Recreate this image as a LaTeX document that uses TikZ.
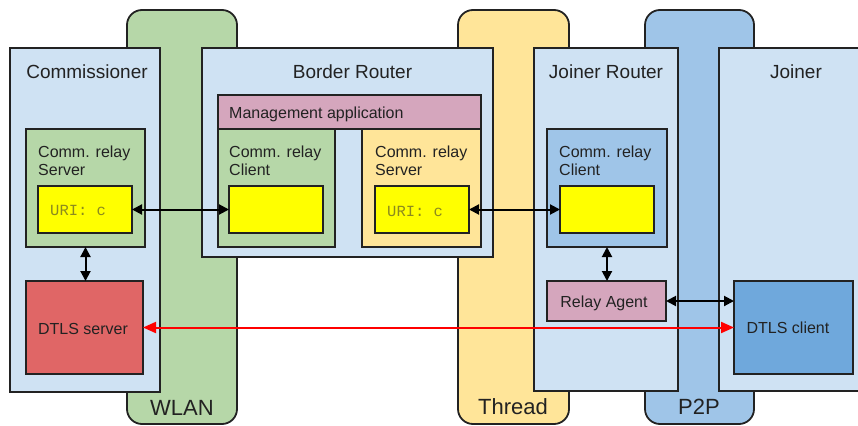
\documentclass[tikz,border=0pt]{standalone}
\usepackage{fontspec}
\setmainfont{Liberation Sans}
\setmonofont{Liberation Mono}
\usetikzlibrary{arrows.meta}
\definecolor{edge}{HTML}{222222}
\definecolor{lb}{HTML}{CFE2F3}
\definecolor{gr}{HTML}{B6D7A8}
\definecolor{org}{HTML}{FFE599}
\definecolor{bl}{HTML}{9FC5E8}
\definecolor{pk}{HTML}{D5A6BD}
\definecolor{rd}{HTML}{E06666}
\definecolor{dc}{HTML}{6FA8DC}
\definecolor{yl}{HTML}{FFFF00}
\definecolor{uri}{HTML}{8C8A1E}
\definecolor{txt}{HTML}{222222}
\begin{document}
\begin{tikzpicture}[x=1pt,y=-1pt,
  box/.style={draw=edge, line width=1.8pt, inner sep=0pt, outer sep=0pt, anchor=north west},
  band/.style={draw=edge, line width=1.8pt, rounded corners=15pt},
  title/.style={font=\fontsize{19}{22}\selectfont, text=txt, inner sep=0pt, anchor=base},
  bandlbl/.style={font=\fontsize{22}{26}\selectfont, text=txt, inner sep=0pt, anchor=base},
  small/.style={font=\fontsize{16}{18}\selectfont, text=txt, inner sep=0pt},
  twoline/.style={small, align=left, anchor=north west},
  uritxt/.style={font=\ttfamily\fontsize{15.5}{18}\selectfont, text=uri, inner sep=0pt, anchor=base west},
  biarrow/.style={line width=2pt, draw=black, {Triangle[length=10pt,width=10pt]}-{Triangle[length=10pt,width=10pt]}},
  redarrow/.style={line width=2pt, draw=red, {Triangle[length=13pt,width=11pt]}-{Triangle[length=13pt,width=11pt]}}
]
\useasboundingbox (0,0) rectangle (858,425);

% network bands
\draw[band, fill=gr] (127,424) rectangle (237,10);
\draw[band, fill=org] (458,424) rectangle (569,10);
\draw[band, fill=bl] (645,424) rectangle (754,10);

% devices
\node[box, fill=lb, minimum width=150pt, minimum height=344pt] (comm) at (10,48) {};
\node[box, fill=lb, minimum width=291pt, minimum height=209pt] (br) at (202,48) {};
\node[box, fill=lb, minimum width=144pt, minimum height=343pt] (jr) at (534,48) {};
\node[box, fill=lb, minimum width=150pt, minimum height=343pt] (joiner) at (719,48) {};

% commissioner internals
\node[box, fill=gr, minimum width=119pt, minimum height=118pt] (comSrv) at (26,129) {};
\node[box, fill=yl, minimum width=94pt, minimum height=47pt] (comYel) at (38,186) {};
\node[box, fill=rd, minimum width=117pt, minimum height=93pt] (dtlsS) at (26,281) {};

% border router internals
\node[box, fill=pk, minimum width=263pt, minimum height=34pt] (mgmt) at (218,95) {};
\node[box, fill=gr, minimum width=117pt, minimum height=118pt] (brCli) at (218,129) {};
\node[box, fill=yl, minimum width=94pt, minimum height=47pt] (brCliYel) at (229,186) {};
\node[box, fill=org, minimum width=119pt, minimum height=118pt] (brSrv) at (362,129) {};
\node[box, fill=yl, minimum width=94pt, minimum height=47pt] (brSrvYel) at (375,186) {};

% joiner router internals
\node[box, fill=bl, minimum width=120pt, minimum height=118pt] (jrCli) at (547,129) {};
\node[box, fill=yl, minimum width=94pt, minimum height=47pt] (jrYel) at (560,186) {};
\node[box, fill=pk, minimum width=119pt, minimum height=40pt] (relay) at (547,281) {};

% joiner internals
\node[box, fill=dc, minimum width=119pt, minimum height=93pt] (dtlsC) at (734,281) {};

% titles
\node[title] (tComm) at (87,78.5) {Commissioner};
\node[title] (tBr) at (352.5,78.5) {Border Router};
\node[title] (tJr) at (606,78.5) {Joiner Router};
\node[title] (tJ) at (796,78.5) {Joiner};

\node[bandlbl] (tWlan) at (182,415) {WLAN};
\node[bandlbl] (tThread) at (513,414) {Thread};
\node[bandlbl] (tP2p) at (699,414) {P2P};

% labels
\node[twoline] (lComSrv) at (38,145.5) {Comm. relay\\Server};
\node[twoline] (lBrCli) at (229,146) {Comm. relay\\Client};
\node[twoline] (lBrSrv) at (375,146) {Comm. relay\\Server};
\node[twoline] (lJrCli) at (559,145.5) {Comm. relay\\Client};
\node[small, anchor=base west] (lMgmt) at (229,118) {Management application};
\node[uritxt] (lUri1) at (50,215.5) {URI: c};
\node[uritxt] (lUri2) at (387,216) {URI: c};
\node[small, anchor=base] (lDtlsS) at (83,334) {DTLS server};
\node[small, anchor=base] (lRelay) at (604,307) {Relay Agent};
\node[small, anchor=base] (lDtlsC) at (788,333) {DTLS client};

% connectors
\draw[biarrow] (comYel.east) -- (brCliYel.west);
\draw[biarrow] (brSrvYel.east) -- (jrYel.west);
\draw[biarrow] (comSrv.south) -- (comSrv.south |- dtlsS.north);
\draw[biarrow] (jrCli.south) -- (jrCli.south |- relay.north);
\draw[biarrow] (relay.east) -- (relay.east -| dtlsC.west);
\draw[redarrow] (dtlsS.east) -- (dtlsS.east -| dtlsC.west);
\end{tikzpicture}
\end{document}
